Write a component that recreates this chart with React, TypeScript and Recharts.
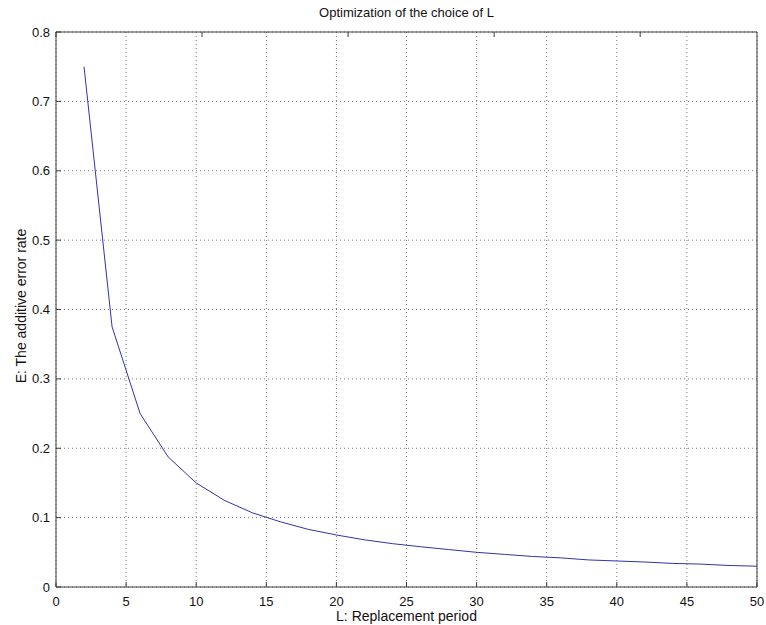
import React from 'react';
import { LineChart, Line, XAxis, YAxis, CartesianGrid } from 'recharts';

// replacement period L (even values)
const periods = [2, 4, 6, 8, 10, 12, 14, 16, 18, 20, 22, 24, 26, 28, 30, 32, 34, 36, 38, 40, 42, 44, 46, 48, 50];
// additive error rate E
const errorRates = [
  0.75, 0.375, 0.25, 0.1875, 0.15, 0.125, 0.107, 0.094, 0.083, 0.075, 0.068, 0.0625, 0.058,
  0.054, 0.05, 0.047, 0.044, 0.042, 0.039, 0.0375, 0.036, 0.034, 0.033, 0.031, 0.03,
];
const xTicks = [0, 5, 10, 15, 20, 25, 30, 35, 40, 45, 50];
const yTicks = [0, 0.1, 0.2, 0.3, 0.4, 0.5, 0.6, 0.7, 0.8];

const data = periods.map((L, i) => ({ L, E: errorRates[i] }));

const font = 'Liberation Sans, Arial, Helvetica, sans-serif';
const axisColor = '#3c3c3c';

export default function App() {
  return (
    <div style={{ position: 'relative', width: 766, height: 625, background: '#fff', fontFamily: font }}>
      <style>{'body{margin:0}'}</style>
      <div
        style={{
          position: 'absolute', left: 56, width: 701, top: 5, textAlign: 'center',
          fontSize: 13, color: '#111',
        }}
      >
        Optimization of the choice of L
      </div>
      <div
        style={{
          position: 'absolute', left: 56, width: 701, top: 608, textAlign: 'center',
          fontSize: 14, lineHeight: '16px', color: '#111',
        }}
      >
        L: Replacement period
      </div>
      <div
        style={{
          position: 'absolute', left: 21, top: 306, transform: 'translate(-50%, -50%) rotate(-90deg)',
          fontSize: 14, lineHeight: '16px', color: '#111', whiteSpace: 'nowrap',
        }}
      >
        E: The additive error rate
      </div>
      <LineChart
        width={766}
        height={625}
        data={data}
        margin={{ top: 0, right: 0, bottom: 0, left: 0 }}
        style={{ position: 'absolute', left: 0, top: 0 }}
      >
        <CartesianGrid stroke="#777" strokeDasharray="1 3" />
        <XAxis
          dataKey="L"
          type="number"
          domain={[0, 50]}
          ticks={xTicks}
          height={38}
          tickSize={-5}
          tickMargin={15}
          stroke={axisColor}
          tick={{ fill: '#111', fontSize: 13, fontFamily: font }}
        />
        <XAxis
          xAxisId="top"
          orientation="top"
          type="number"
          domain={[0, 50]}
          ticks={xTicks}
          height={32}
          tickSize={-5}
          tickFormatter={() => ''}
          stroke={axisColor}
        />
        <YAxis
          type="number"
          domain={[0, 0.8]}
          ticks={yTicks}
          width={56}
          tickSize={-5}
          tickMargin={11}
          stroke={axisColor}
          tick={{ fill: '#111', fontSize: 13, fontFamily: font }}
        />
        <YAxis
          yAxisId="right"
          orientation="right"
          type="number"
          domain={[0, 0.8]}
          ticks={yTicks}
          width={9}
          tickSize={-5}
          tickFormatter={() => ''}
          stroke={axisColor}
        />
        <Line
          type="linear"
          dataKey="E"
          stroke="#3333a8"
          strokeWidth={1}
          dot={false}
          isAnimationActive={false}
        />
      </LineChart>
    </div>
  );
}
